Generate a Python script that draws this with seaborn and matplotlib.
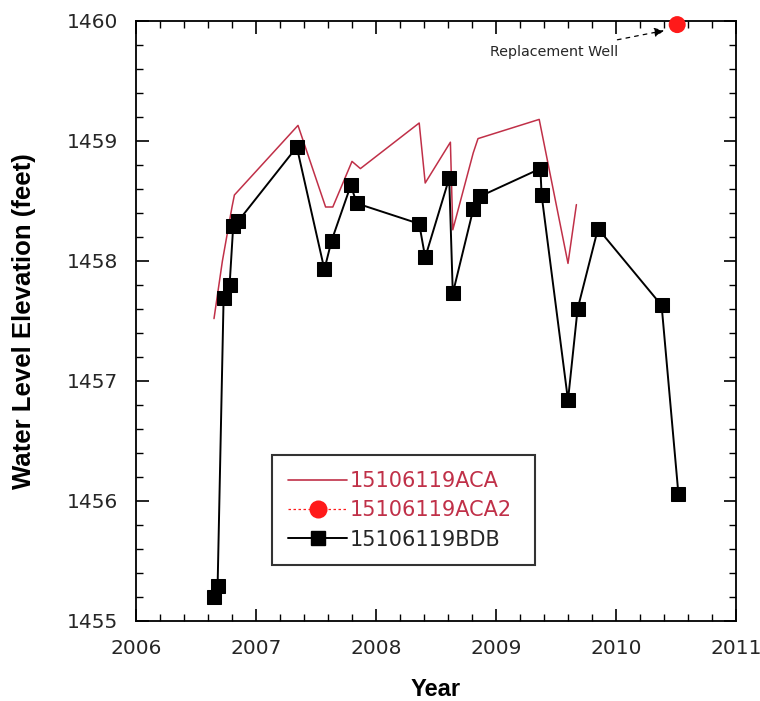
import matplotlib
matplotlib.use("Agg")
import matplotlib.pyplot as plt
from matplotlib.lines import Line2D
from matplotlib.ticker import MultipleLocator
import seaborn as sns
import pandas as pd

# Well 15106119BDB (black squares)
bdb_year = [2006.65, 2006.68, 2006.73, 2006.78, 2006.81, 2006.85, 2007.34, 2007.57,
            2007.63, 2007.79, 2007.84, 2008.36, 2008.41, 2008.61, 2008.64, 2008.81,
            2008.87, 2009.37, 2009.38, 2009.60, 2009.68, 2009.85, 2010.38, 2010.52]
bdb_elev = [1455.20, 1455.29, 1457.69, 1457.80, 1458.29, 1458.33, 1458.95, 1457.93,
            1458.17, 1458.63, 1458.48, 1458.31, 1458.03, 1458.69, 1457.73, 1458.43,
            1458.54, 1458.77, 1458.55, 1456.84, 1457.60, 1458.27, 1457.63, 1456.06]

# Well 15106119ACA (red line)
aca_year = [2006.65, 2006.72, 2006.80, 2006.82, 2007.35, 2007.58, 2007.64, 2007.80,
            2007.87, 2008.36, 2008.41, 2008.62, 2008.64, 2008.81, 2008.85, 2009.36,
            2009.60, 2009.67]
aca_elev = [1457.52, 1458.00, 1458.45, 1458.55, 1459.13, 1458.45, 1458.45, 1458.83,
            1458.77, 1459.15, 1458.65, 1458.99, 1458.26, 1458.90, 1459.02, 1459.18,
            1457.98, 1458.47]

# Replacement well 15106119ACA2
aca2_year = [2010.51]
aca2_elev = [1459.97]

labels = ["15106119ACA", "15106119ACA2", "15106119BDB"]
red_line = "#c03048"
red_dot = "#ff1a1a"
txt_dark = "#262626"

sns.set_style("white")
plt.rcParams['font.family'] = ['DejaVu Sans']

fig = plt.figure(figsize=(7.6, 7.01), dpi=100)
ax = fig.add_axes([136 / 760, 1 - 621 / 701, 600 / 760, 600 / 701])

aca = pd.DataFrame({"year": aca_year, "elev": aca_elev})
bdb = pd.DataFrame({"year": bdb_year, "elev": bdb_elev})
aca2 = pd.DataFrame({"year": aca2_year, "elev": aca2_elev})

sns.lineplot(data=aca, x="year", y="elev", ax=ax, color=red_line, lw=1.1,
             sort=False, estimator=None)
sns.lineplot(data=bdb, x="year", y="elev", ax=ax, color="black", lw=1.4,
             marker="s", markersize=10.5, markeredgecolor="black",
             sort=False, estimator=None)
sns.scatterplot(data=aca2, x="year", y="elev", ax=ax, color=red_dot, s=150,
                edgecolor="none", clip_on=False, zorder=5)

ax.set_xlim(2006, 2011)
ax.set_ylim(1455, 1460)
ax.xaxis.set_major_locator(MultipleLocator(1))
ax.xaxis.set_minor_locator(MultipleLocator(0.2))
ax.yaxis.set_major_locator(MultipleLocator(1))
ax.yaxis.set_minor_locator(MultipleLocator(0.2))
ax.tick_params(which="both", direction="in", bottom=True, left=True, top=True,
               right=True, labeltop=False, labelright=False, color="black")
ax.tick_params(which="major", length=9, width=1.2, labelsize=14.5, pad=13,
               labelcolor=txt_dark)
ax.tick_params(which="minor", length=5, width=1.0)
ax.xaxis.set_major_formatter(plt.FuncFormatter(lambda v, p: f"{v:.0f}"))
ax.yaxis.set_major_formatter(plt.FuncFormatter(lambda v, p: f"{v:.0f}"))
for s in ax.spines.values():
    s.set_color("black")
    s.set_linewidth(1.3)

label_font = dict(family=["Liberation Sans"], fontweight="bold", color="black")
ax.set_xlabel("Year", labelpad=14, fontsize=17, **label_font)
ax.set_ylabel("Water Level Elevation (feet)", labelpad=22, fontsize=18.5,
              **label_font)

ax.annotate("Replacement Well", xy=(2010.40, 1459.92), xytext=(2010.02, 1459.74),
            fontsize=10.3, ha="right", va="center", color=txt_dark,
            arrowprops=dict(arrowstyle="-|>", color="black", lw=0.9,
                            linestyle=(0, (3, 4)), shrinkA=8, shrinkB=0,
                            mutation_scale=14))

handles = [
    Line2D([], [], color=red_line, lw=1.2),
    Line2D([], [], color=red_dot, lw=0.9, ls=(0, (2, 2)), marker="o",
           markersize=13, markeredgecolor="none"),
    Line2D([], [], color="black", lw=1.4, marker="s", markersize=10),
]
leg = ax.legend(handles, labels, loc="lower left",
                bbox_to_anchor=(0.227, 0.093, 0.438, 0), mode="expand",
                fontsize=15, frameon=True, fancybox=False, handlelength=2.85,
                handletextpad=0.1, borderpad=0.75, labelspacing=0.45,
                borderaxespad=0)
leg.get_frame().set_edgecolor("black")
leg.get_frame().set_linewidth(1.5)
for txt, c in zip(leg.get_texts(), [red_line, red_line, txt_dark]):
    txt.set_color(c)

fig.savefig("out.png", dpi=100)
